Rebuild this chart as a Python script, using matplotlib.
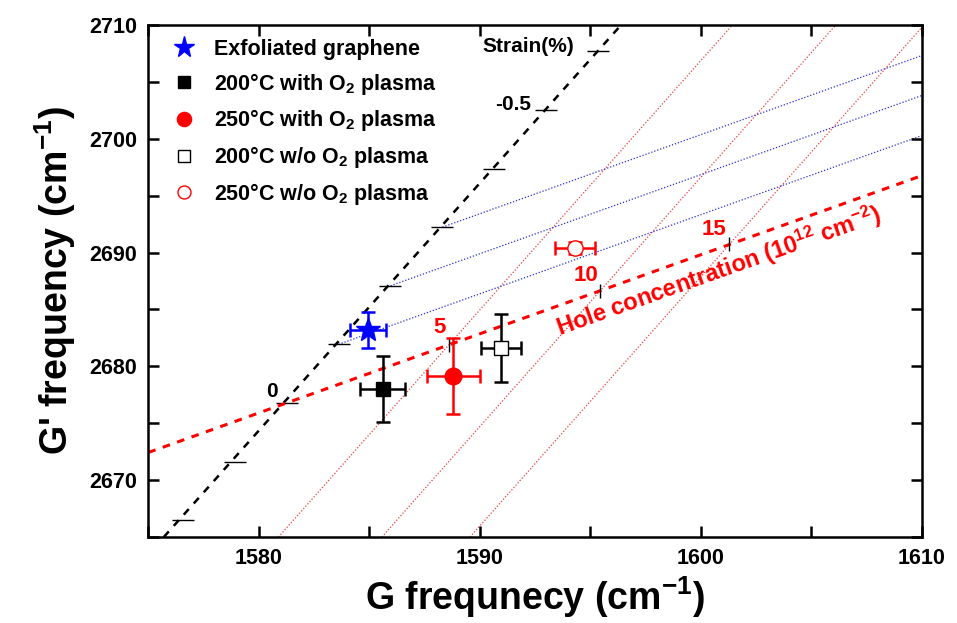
import matplotlib
matplotlib.use('Agg')
import matplotlib.pyplot as plt
from matplotlib.lines import Line2D
from matplotlib.ticker import MultipleLocator

plt.rcParams['font.family'] = ['Liberation Sans', 'DejaVu Sans']
plt.rcParams['font.weight'] = 'bold'
plt.rcParams['mathtext.fontset'] = 'custom'
plt.rcParams['mathtext.rm'] = 'Liberation Sans:bold'
plt.rcParams['mathtext.it'] = 'Liberation Sans:bold'
plt.rcParams['mathtext.bf'] = 'Liberation Sans:bold'
plt.rcParams['mathtext.default'] = 'rm'

# Measured Raman peak positions (G, G') with error bars
labels = ['Exfoliated graphene', '200°C with O$_2$ plasma', '250°C with O$_2$ plasma',
          '200°C w/o O$_2$ plasma', '250°C w/o O$_2$ plasma']
g_pos = [1584.95, 1585.6, 1588.8, 1590.95, 1594.3]
g2d_pos = [2683.2, 2678.0, 2679.15, 2681.6, 2690.4]
g_err = [0.8, 1.0, 1.2, 0.9, 0.9]
g2d_err = [1.6, 2.9, 3.3, 3.0, 0.5]

# Strain reference line and its ticks (every 0.1 %)
strain_line_x = [1575.7, 1596.4]
strain_line_y = [2665.0, 2710.0]
strain_tick_x = [1576.56, 1578.91, 1581.26, 1583.61, 1585.96, 1588.31, 1590.66, 1593.01, 1595.36]
strain_tick_y = [2666.48, 2671.63, 2676.78, 2681.93, 2687.08, 2692.23, 2697.38, 2702.53, 2707.68]

# Hole concentration reference line and ticks (0, 5, 10, 15 x 10^12 cm^-2)
hole_line_x = [1575.0, 1610.0]
hole_line_y = [2672.43, 2696.75]
hole_tick_labels = ['0', '5', '10', '15']
hole_tick_x = [1581.26, 1588.6, 1595.45, 1601.3]
hole_tick_y = [2676.78, 2681.88, 2686.64, 2690.71]

# constant-doping lines (red, parallel to strain) and constant-strain lines (blue)
red_lines_x = [[1580.89, 1601.44], [1585.57, 1606.12], [1589.56, 1610.0]]
red_lines_y = [[2665.0, 2710.0], [2665.0, 2710.0], [2665.0, 2709.76]]
blue_lines_x = [[1583.61, 1610.0], [1585.96, 1610.0], [1588.31, 1610.0]]
blue_lines_y = [[2681.93, 2700.27], [2687.08, 2703.79], [2692.23, 2707.30]]

fig = plt.figure(figsize=(9.57, 6.23), dpi=100)
ax = fig.add_axes([0.155, 0.138, 0.808, 0.822])

for xs, ys in zip(red_lines_x, red_lines_y):
    ax.plot(xs, ys, color='#e8403f', lw=0.9, ls=(0, (1, 1.5)), zorder=1)
for xs, ys in zip(blue_lines_x, blue_lines_y):
    ax.plot(xs, ys, color='#2a2ad8', lw=0.9, ls=(0, (1, 1.5)), zorder=1)

ax.plot(strain_line_x, strain_line_y, color='black', lw=1.8, ls=(0, (3, 3)), zorder=2)
ax.plot(strain_tick_x, strain_tick_y, ls='none', marker='_', ms=16, mew=1.0, color='black', zorder=2)
ax.plot(hole_line_x, hole_line_y, color='#ff0000', lw=2.2, ls=(0, (2.5, 2.5)), zorder=2)
ax.plot(hole_tick_x[1:], hole_tick_y[1:], ls='none', marker='|', ms=10, mew=1.0, color='black', zorder=2)

styles = [
    dict(marker='*', ms=18, mfc='blue', mec='blue', color='blue'),
    dict(marker='s', ms=10, mfc='black', mec='black', color='black'),
    dict(marker='o', ms=12, mfc='red', mec='red', color='red'),
    dict(marker='s', ms=10, mfc='white', mec='black', color='black'),
    dict(marker='o', ms=11, mfc='white', mec='red', color='red'),
]
handles = []
for i in range(len(labels)):
    st = styles[i]
    ax.errorbar(g_pos[i], g2d_pos[i], xerr=g_err[i], yerr=g2d_err[i], fmt='none',
                ecolor=st['color'], elinewidth=1.8, capsize=5, capthick=1.8, zorder=4)
    ax.plot(g_pos[i], g2d_pos[i], ls='none', marker=st['marker'], ms=st['ms'],
            mfc=st['mfc'], mec=st['mec'], mew=1.0, zorder=5)
    handles.append(Line2D([], [], ls='none', marker=st['marker'], ms=st['ms'] * 0.85,
                          mfc=st['mfc'], mec=st['mec'], mew=1.0))

ax.legend(handles, labels, loc='upper left', bbox_to_anchor=(0.0, 1.0), frameon=False,
          handletextpad=0.4, labelspacing=0.5, borderaxespad=0.25,
          prop={'weight': 'bold', 'size': 15.5})

# annotations
ax.text(1580.6, 2677.8, '0', fontsize=15, fontweight='bold', ha='center', va='center')
ax.text(1591.5, 2703.0, '-0.5', fontsize=15, fontweight='bold', ha='center', va='center')
ax.text(1592.2, 2708.1, 'Strain(%)', fontsize=15, fontweight='bold', ha='center', va='center')
hole_lbl_x = [1588.2, 1594.8, 1600.6]
hole_lbl_y = [2683.4, 2688.0, 2692.0]
for t, x, y in zip(hole_tick_labels[1:], hole_lbl_x, hole_lbl_y):
    ax.text(x, y, t, color='#ff0000', fontsize=16, fontweight='bold', ha='center', va='center')
ax.text(1600.8, 2688.4, 'Hole concentration (10$^{12}$ cm$^{-2}$)', color='#ff0000',
        fontsize=17, fontweight='bold', ha='center', va='center', rotation=19.6,
        rotation_mode='anchor')

ax.set_xlim(1575, 1610)
ax.set_ylim(2665, 2710)
ax.xaxis.set_major_locator(MultipleLocator(10))
ax.xaxis.set_minor_locator(MultipleLocator(5))
ax.yaxis.set_major_locator(MultipleLocator(10))
ax.yaxis.set_minor_locator(MultipleLocator(5))
ax.tick_params(which='both', direction='in', top=True, right=True, length=8, width=1.8,
               labelsize=15.5, pad=8)
for s in ax.spines.values():
    s.set_linewidth(1.8)
for lbl in ax.get_xticklabels() + ax.get_yticklabels():
    lbl.set_fontweight('bold')

ax.set_xlabel('G frequnecy (cm$^{-1}$)', fontsize=27, fontweight='bold', labelpad=4)
ax.set_ylabel("G' frequency (cm$^{-1}$)", fontsize=27, fontweight='bold', labelpad=8)

fig.savefig('out.png', dpi=100)
